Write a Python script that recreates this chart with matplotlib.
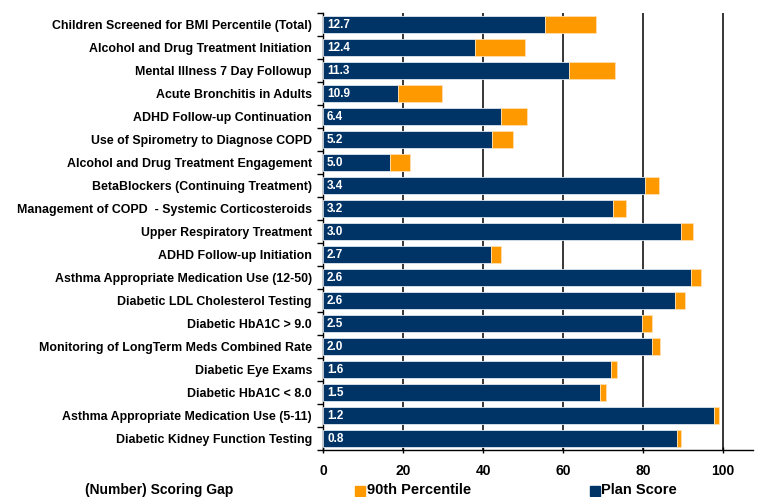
import numpy as np
import matplotlib
matplotlib.use("Agg")
import matplotlib.pyplot as plt
from matplotlib.patches import Rectangle

# measures, top to bottom
measures = [
    "Children Screened for BMI Percentile (Total)",
    "Alcohol and Drug Treatment Initiation",
    "Mental Illness 7 Day Followup",
    "Acute Bronchitis in Adults",
    "ADHD Follow-up Continuation",
    "Use of Spirometry to Diagnose COPD",
    "Alcohol and Drug Treatment Engagement",
    "BetaBlockers (Continuing Treatment)",
    "Management of COPD  - Systemic Corticosteroids",
    "Upper Respiratory Treatment",
    "ADHD Follow-up Initiation",
    "Asthma Appropriate Medication Use (12-50)",
    "Diabetic LDL Cholesterol Testing",
    "Diabetic HbA1C > 9.0",
    "Monitoring of LongTerm Meds Combined Rate",
    "Diabetic Eye Exams",
    "Diabetic HbA1C < 8.0",
    "Asthma Appropriate Medication Use (5-11)",
    "Diabetic Kidney Function Testing",
]
plan_score = [55.6, 38.1, 61.6, 18.8, 44.6, 42.2, 16.8, 80.5, 72.6, 89.4,
              41.9, 91.9, 88.0, 79.8, 82.3, 71.9, 69.3, 97.8, 88.6]
gap = [12.7, 12.4, 11.3, 10.9, 6.4, 5.2, 5.0, 3.4, 3.2, 3.0,
       2.7, 2.6, 2.6, 2.5, 2.0, 1.6, 1.5, 1.2, 0.8]
x_ticks = [0, 20, 40, 60, 80, 100]

NAVY = "#003366"
ORANGE = "#FF9900"
FONT = "Liberation Sans"

fig = plt.figure(figsize=(7.57, 4.97), dpi=100)
ax = fig.add_axes([323 / 757, 1 - 450 / 497, (753 - 323) / 757, (450 - 13) / 497])

n = len(measures)
y = np.arange(n)
ax.barh(y, plan_score, height=0.75, color=NAVY, edgecolor="#dde6f0", linewidth=0.6, zorder=3)
ax.barh(y, gap, left=plan_score, height=0.75, color=ORANGE, edgecolor="#ffe0b0",
        linewidth=0.6, zorder=3)

for yi, g in zip(y, gap):
    ax.text(1.0, yi, f"{g:.1f}", color="white", fontsize=8.5, fontweight="bold",
            family=FONT, va="center", ha="left", zorder=4)

ax.set_ylim(n - 0.5, -0.5)
ax.set_xlim(0, 107.5)
ax.set_yticks(y)
ax.set_yticklabels(measures, fontsize=8.9, fontweight="bold", family=FONT)
ax.set_yticks(np.arange(n + 1) - 0.5, minor=True)
ax.tick_params(axis="y", which="major", length=0, pad=8)
ax.tick_params(axis="y", which="minor", length=4, direction="out", width=1)
ax.set_xticks(x_ticks)
ax.set_xticklabels([str(t) for t in x_ticks], fontsize=10, fontweight="bold", family=FONT)
ax.tick_params(axis="x", length=4, direction="inout", width=1, pad=8)

for t in x_ticks[1:]:
    ax.axvline(t, color="black", linewidth=1.1, zorder=1)

for s in ["top", "right"]:
    ax.spines[s].set_visible(False)
ax.spines["left"].set_linewidth(1)
ax.spines["bottom"].set_linewidth(1)

# legend row
fig.text(85 / 757, 1 - 490 / 497, "(Number) Scoring Gap", fontsize=10, fontweight="bold",
         family=FONT, va="center", ha="left")
sq = 10
fig.patches.append(Rectangle((355 / 757, 1 - 496 / 497), sq / 757, sq / 497,
                             transform=fig.transFigure, color=ORANGE))
fig.text(367 / 757, 1 - 490 / 497, "90th Percentile", fontsize=10.5, fontweight="bold",
         family=FONT, va="center", ha="left")
fig.patches.append(Rectangle((590 / 757, 1 - 496 / 497), sq / 757, sq / 497,
                             transform=fig.transFigure, color=NAVY))
fig.text(601 / 757, 1 - 490 / 497, "Plan Score", fontsize=10.5, fontweight="bold",
         family=FONT, va="center", ha="left")

fig.savefig("out.png", dpi=100)
